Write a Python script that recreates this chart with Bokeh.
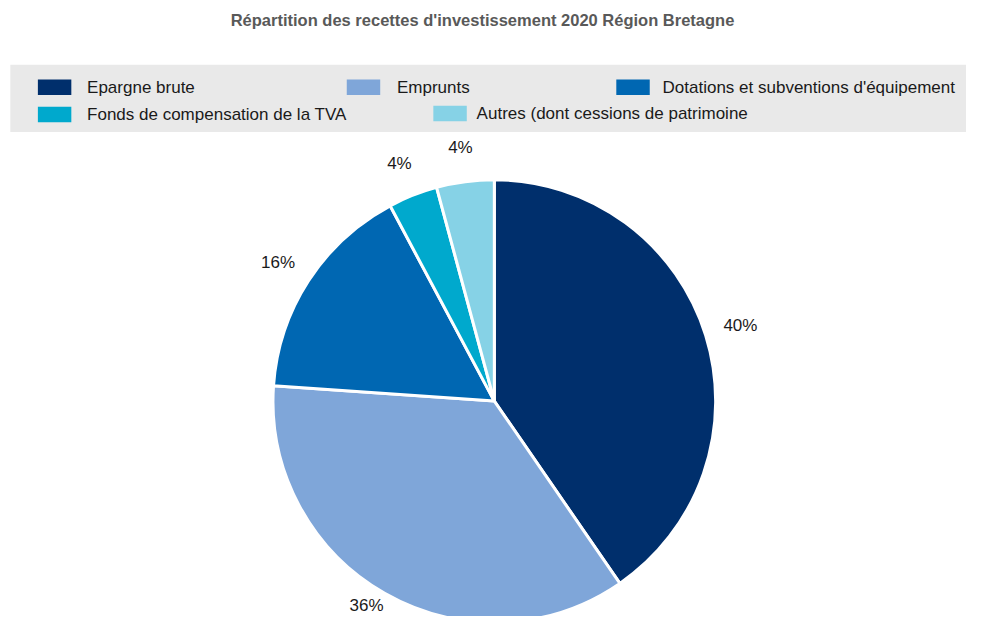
import math
from bokeh.plotting import figure
from bokeh.models import Range1d, ColumnDataSource
from bokeh.core.properties import value
from bokeh.embed import file_html
from bokeh.resources import INLINE

# ---- data ----
title = "Répartition des recettes d'investissement 2020 Région Bretagne"
categories = ["Epargne brute", "Emprunts", "Dotations et subventions d'équipement",
              "Fonds de compensation de la TVA", "Autres (dont cessions de patrimoine"]
shares = [40.4, 35.7, 16.1, 3.6, 4.2]
colors = ["#002F6C", "#7FA6D9", "#0067B2", "#00A9CD", "#86D2E6"]

FONT = "Liberation Sans"
W, H = 982, 632  # reference coordinate space

p = figure(width=966, height=616, output_backend="svg", toolbar_location=None,
           x_range=Range1d(0, W), y_range=Range1d(0, H), min_border=0)
p.axis.visible = False
p.grid.visible = False
p.outline_line_color = None
p.background_fill_color = "white"
p.border_fill_color = "white"

def Y(y):
    return H - y

# title
p.text(x=[490], y=[Y(20)], text=[title], text_align="center", text_baseline="middle",
       text_font=value(FONT), text_font_size="16.5px", text_font_style="bold",
       text_color="#595959")

# legend background
p.quad(left=[10], right=[W], top=[Y(66)], bottom=[Y(135)], fill_color="#E9E9E9", line_color=None)

leg_sq_x = [38, 352, 626, 38, 440]
leg_y = [89, 89, 89, 117, 116]
leg_tx = [88, 403, 673, 88, 484]
p.quad(left=leg_sq_x, right=[x + 34 for x in leg_sq_x],
       top=[Y(y - 8) for y in leg_y], bottom=[Y(y + 8) for y in leg_y],
       fill_color=colors, line_color=None)
p.text(x=leg_tx, y=[Y(y) for y in leg_y], text=categories, text_baseline="middle",
       text_font=value(FONT), text_font_size="17px", text_color="#1a1a1a")

# pie
cx, cy, R = 502, Y(411), 225
total = sum(shares)
starts, ends, mids = [], [], []
acc = 0.0
for s in shares:
    a0 = acc / total * 2 * math.pi
    acc += s
    a1 = acc / total * 2 * math.pi
    # clockwise from top -> math angles
    starts.append(math.pi / 2 - a1)
    ends.append(math.pi / 2 - a0)
    mids.append((a0 + a1) / 2)

src = ColumnDataSource(dict(start=starts, end=ends, color=colors))
p.wedge(x=cx, y=cy, radius=R, start_angle="start", end_angle="end", direction="anticlock",
        fill_color="color", line_color="white", line_width=3, source=src)

LR = 262
lx = [cx + LR * math.sin(m) for m in mids]
ly = [max(cy + LR * math.cos(m), 11) for m in mids]
labels = [f"{round(s)}%" for s in shares]
p.text(x=lx, y=ly, text=labels, text_align="center", text_baseline="middle",
       text_font=value(FONT), text_font_size="17px", text_color="#1a1a1a")

open("out.html", "w").write(file_html(p, INLINE))
